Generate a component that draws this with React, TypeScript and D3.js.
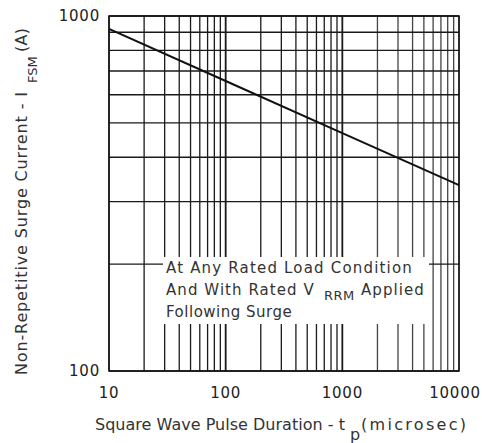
import React from "react";
import * as d3 from "d3";

const pulseDuration = [10, 100, 1000, 10000];
const surgeCurrent = [920, 656, 468, 334];
const xTickValues = [10, 100, 1000, 10000];
const yTickValues = [100, 1000];
const xGridValues = [10, 20, 30, 40, 50, 60, 70, 80, 90, 100, 200, 300, 400, 500, 600, 700, 800, 900, 1000, 2000, 3000, 4000, 5000, 6000, 7000, 8000, 9000, 10000];
const yGridValues = [100, 200, 300, 400, 500, 600, 700, 800, 900, 1000];

const W = 482;
const H = 443;
const M = { left: 109, right: 459, top: 16, bottom: 371 };
const FONT = "'DejaVu Sans', 'Open Sans', sans-serif";

export default function App() {
  const x = d3.scaleLog().domain([10, 10000]).range([M.left, M.right]);
  const y = d3.scaleLog().domain([100, 1000]).range([M.bottom, M.top]);
  const line = d3
    .line<number>()
    .x((_, i) => x(pulseDuration[i]))
    .y((d) => y(d));

  const box = { x0: 163, x1: 429, y0: 257, y1: 324 };

  return (
    <svg
      width={W}
      height={H}
      style={{ position: "absolute", left: 0, top: 0, background: "#fff" }}
      fontFamily={FONT}
    >
      <rect x={0} y={0} width={W} height={H} fill="#fff" />
      {/* grid */}
      {xGridValues.map((v) => (
        <line
          key={"xg" + v}
          x1={x(v)}
          x2={x(v)}
          y1={M.top}
          y2={M.bottom}
          stroke={v > 1000 ? "#444" : "#1a1a1a"}
          strokeWidth={v === 1000 || v === 100 ? 1.8 : 1.3}
        />
      ))}
      {yGridValues.map((v) => (
        <line
          key={"yg" + v}
          x1={M.left}
          x2={M.right}
          y1={y(v)}
          y2={y(v)}
          stroke="#1a1a1a"
          strokeWidth={1.3}
        />
      ))}
      {/* annotation background */}
      <rect x={box.x0} y={box.y0} width={box.x1 - box.x0} height={box.y1 - box.y0} fill="#fff" />
      {/* frame */}
      <rect
        x={M.left}
        y={M.top}
        width={M.right - M.left}
        height={M.bottom - M.top}
        fill="none"
        stroke="#111"
        strokeWidth={1.5}
      />
      {/* data line */}
      <path d={line(surgeCurrent) || ""} fill="none" stroke="#111" strokeWidth={2} />

      {/* annotation text */}
      <g fontSize={15} fill="#333" letterSpacing={1.2}>
        <text x={166} y={273} textLength={247} lengthAdjust="spacing">
          At Any Rated Load Condition
        </text>
        <text x={166} y={295}>
          <tspan textLength={149} lengthAdjust="spacing">And With Rated V</tspan>
          <tspan x={324} dy={5} fontSize={13} letterSpacing={0.5}>RRM</tspan>
          <tspan x={361} dy={-5} textLength={64} lengthAdjust="spacing">Applied</tspan>
        </text>
        <text x={166} y={317} textLength={127} lengthAdjust="spacing">
          Following Surge
        </text>
      </g>

      {/* y tick labels */}
      {yTickValues.map((v) => (
        <text
          key={"yt" + v}
          x={M.left - 9}
          y={y(v)}
          dy="0.36em"
          textAnchor="end"
          fontSize={15}
          letterSpacing={0.8}
          fill="#222"
        >
          {v}
        </text>
      ))}
      {/* x tick labels */}
      {xTickValues.map((v, i) => (
        <text
          key={"xt" + v}
          x={x(v)}
          dx={i === xTickValues.length - 1 ? -4 : 0}
          y={398}
          textAnchor="middle"
          fontSize={15}
          letterSpacing={0.8}
          fill="#222"
        >
          {v}
        </text>
      ))}

      {/* x title */}
      <text x={95} y={430} fontSize={16} fill="#333">
        <tspan textLength={250} lengthAdjust="spacing">Square Wave Pulse Duration - t</tspan>
        <tspan x={350} dy={10}>p</tspan>
        <tspan x={361} dy={-10} textLength={105} lengthAdjust="spacing">(microsec)</tspan>
      </text>

      {/* y title */}
      <g transform="translate(27,375) rotate(-90)">
        <text x={0} y={0} fontSize={16} fill="#333">
          <tspan textLength={283} lengthAdjust="spacing">Non-Repetitive Surge Current - I</tspan>
          <tspan x={292} dy={10} fontSize={13}>FSM</tspan>
          <tspan x={323} dy={-10} textLength={24} lengthAdjust="spacing">(A)</tspan>
        </text>
      </g>
    </svg>
  );
}
